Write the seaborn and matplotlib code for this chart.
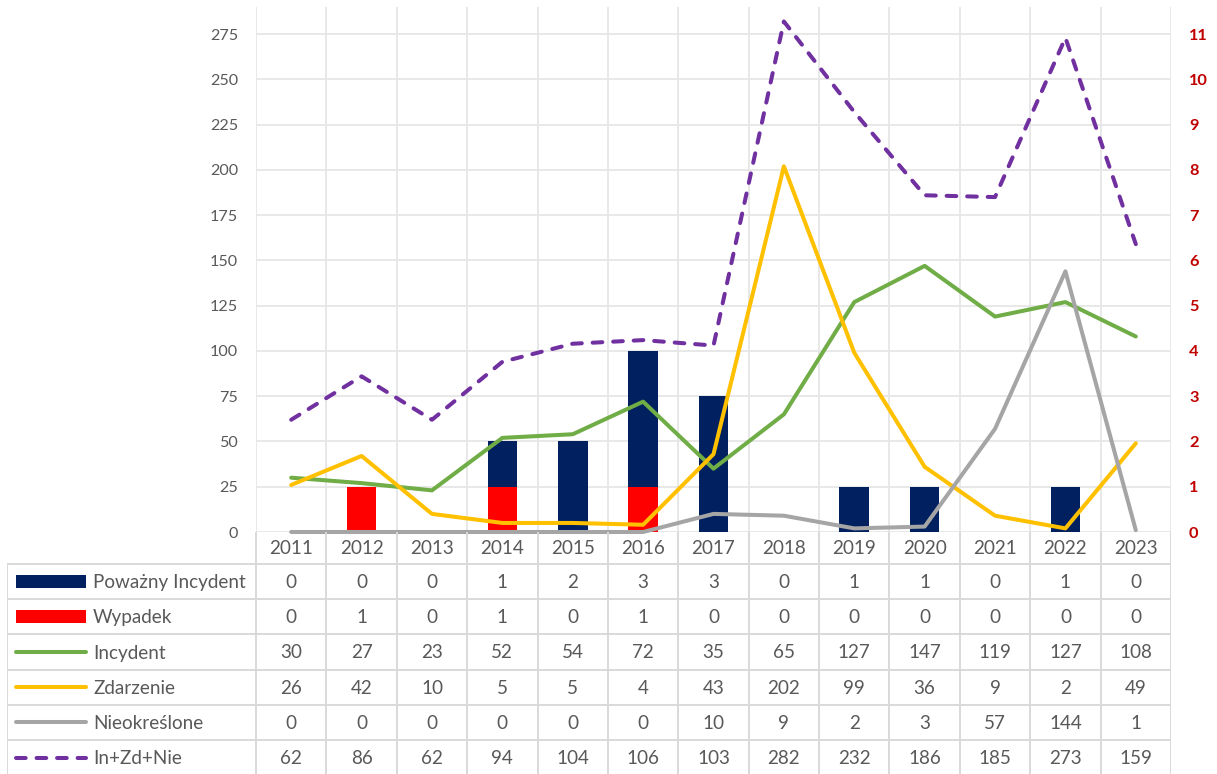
import numpy as np
import matplotlib
matplotlib.use("Agg")
import matplotlib.pyplot as plt
from matplotlib.patches import Rectangle
import seaborn as sns

# ---- data -------------------------------------------------------------
years = ["2011", "2012", "2013", "2014", "2015", "2016", "2017",
         "2018", "2019", "2020", "2021", "2022", "2023"]
powazny_incydent = [0, 0, 0, 1, 2, 3, 3, 0, 1, 1, 0, 1, 0]
wypadek = [0, 1, 0, 1, 0, 1, 0, 0, 0, 0, 0, 0, 0]
incydent = [30, 27, 23, 52, 54, 72, 35, 65, 127, 147, 119, 127, 108]
zdarzenie = [26, 42, 10, 5, 5, 4, 43, 202, 99, 36, 9, 2, 49]
nieokreslone = [0, 0, 0, 0, 0, 0, 10, 9, 2, 3, 57, 144, 1]
suma = [62, 86, 62, 94, 104, 106, 103, 282, 232, 186, 185, 273, 159]

row_labels = ["Poważny Incydent", "Wypadek", "Incydent", "Zdarzenie",
              "Nieokreślone", "In+Zd+Nie"]

# ---- style ------------------------------------------------------------
NAVY = "#002060"
RED = "#FF0000"
GREEN = "#70AD47"
YELLOW = "#FFC000"
GREY = "#A5A5A5"
PURPLE = "#7030A0"
TEXT = "#595959"
AXRED = "#C00000"
GRID = "#E6E6E6"
TABLE = "#D9D9D9"
LW = 2.9
DASH = (2.4, 2.7)

sns.set_theme(style="white")
plt.rcParams["font.family"] = ["Lato", "DejaVu Sans"]

W, H = 1217, 774
fig = plt.figure(figsize=(W / 100, H / 100), dpi=100)

# pixel layout of the plot area and the data table beneath it
plot_l, plot_r, plot_t, plot_b = 256, 1171, 7, 532
tab_l = 7
hdr_h, row_h = 32, 35.2


def fx(px):
    return px / W


def fy(py):
    return 1 - py / H


x = np.array([int(y) for y in years])
unit_px = (plot_r - plot_l) / len(years)
x_lo, x_hi = x[0] - 0.5, x[-1] + 0.5

# ---- bars (right axis) ------------------------------------------------
ax = fig.add_axes([fx(plot_l), fy(plot_b), fx(plot_r) - fx(plot_l),
                   fy(plot_t) - fy(plot_b)])
stack_top = np.array(powazny_incydent) + np.array(wypadek)
sns.barplot(x=x, y=stack_top, native_scale=True, color=NAVY, saturation=1,
            width=0.42, linewidth=0, errorbar=None, ax=ax)
sns.barplot(x=x, y=wypadek, native_scale=True, color=RED, saturation=1,
            width=0.42, linewidth=0, errorbar=None, ax=ax)
ax.set_xlim(x_lo, x_hi)
ax.set_ylim(0, 11.6)
ax.set_yticks(range(0, 12))
ax.set_xticks([])
ax.set_xlabel("")
ax.set_ylabel("")
ax.grid(axis="y", color=GRID, lw=1.3)
ax.set_axisbelow(True)
for b in np.arange(x_lo, x_hi + 0.01, 1.0):
    ax.axvline(b, color=GRID, lw=1.3, zorder=0)
for s in ax.spines.values():
    s.set_visible(False)

# ---- lines (left axis) ------------------------------------------------
ax2 = ax.twinx()
series = [(incydent, GREEN, "-"), (zdarzenie, YELLOW, "-"),
          (nieokreslone, GREY, "-"), (suma, PURPLE, (0, DASH))]
for vals, col, ls in series:
    sns.lineplot(x=x, y=vals, color=col, linewidth=LW, linestyle=ls,
                 clip_on=False, ax=ax2, solid_capstyle="round",
                 dash_capstyle="round")
ax2.set_xlim(x_lo, x_hi)
ax2.set_ylim(0, 290)
ax2.set_yticks(range(0, 276, 25))
ax2.set_xticks([])
ax2.set_xlabel("")
ax2.set_ylabel("")
for s in ax2.spines.values():
    s.set_visible(False)

# counts on the left, bar scale on the right
ax2.yaxis.tick_left()
ax.yaxis.tick_right()
ax2.tick_params(axis="y", length=0, pad=13, labelsize=11.6,
                labelcolor=TEXT)
ax.tick_params(axis="y", length=0, pad=13, labelsize=11.8,
               labelcolor=AXRED)
for lab in ax.get_yticklabels():
    lab.set_fontweight("bold")

# ---- data table -------------------------------------------------------
tab_h = H - plot_b
axt = fig.add_axes([fx(tab_l), 0, fx(plot_r) - fx(tab_l), tab_h / H])
axt.set_xlim(x_lo - (plot_l - tab_l) / unit_px, x_hi)
axt.set_ylim(tab_h, 0)
axt.axis("off")


def px_x(p):
    return x_lo + (p - plot_l) / unit_px


left_x = px_x(tab_l)
for k in range(len(row_labels) + 1):
    yy = hdr_h + row_h * k
    axt.plot([left_x, x_hi], [yy, yy], color=TABLE, lw=1.4,
             solid_capstyle="butt")
axt.plot([left_x, left_x], [hdr_h, tab_h + 5], color=TABLE, lw=1.4)
for b in np.arange(x_lo, x_hi + 0.01, 1.0):
    axt.plot([b, b], [0, tab_h + 5], color=TABLE, lw=1.4)

TFS = 13.6
for xi, yr in zip(x, years):
    axt.text(xi, hdr_h / 2 + 1, yr, ha="center", va="center",
             fontsize=TFS, color=TEXT)

table_rows = [powazny_incydent, wypadek, incydent, zdarzenie,
              nieokreslone, suma]
for r, vals in enumerate(table_rows):
    yc = hdr_h + row_h * (r + 0.5) + 1
    for xi, v in zip(x, vals):
        axt.text(xi, yc, str(v), ha="center", va="center",
                 fontsize=TFS, color=TEXT)

# legend keys inside the first table column
key_x0, key_x1, label_x = px_x(16), px_x(86), px_x(93)
keys = [("bar", NAVY), ("bar", RED), ("line", GREEN), ("line", YELLOW),
        ("line", GREY), ("dash", PURPLE)]
for r, ((kind, col), label) in enumerate(zip(keys, row_labels)):
    yc = hdr_h + row_h * (r + 0.5)
    if kind == "bar":
        axt.add_patch(Rectangle((key_x0, yc - 6.5), key_x1 - key_x0, 13,
                                facecolor=col, edgecolor="none"))
    elif kind == "line":
        axt.plot([key_x0, key_x1], [yc, yc], color=col, lw=LW,
                 solid_capstyle="round")
    else:
        axt.plot([key_x0, key_x1], [yc, yc], color=col, lw=LW,
                 linestyle=(0, DASH), dash_capstyle="round")
    axt.text(label_x, yc + 1, label, ha="left", va="center",
             fontsize=TFS, color=TEXT)

fig.savefig("out.png", dpi=100)
